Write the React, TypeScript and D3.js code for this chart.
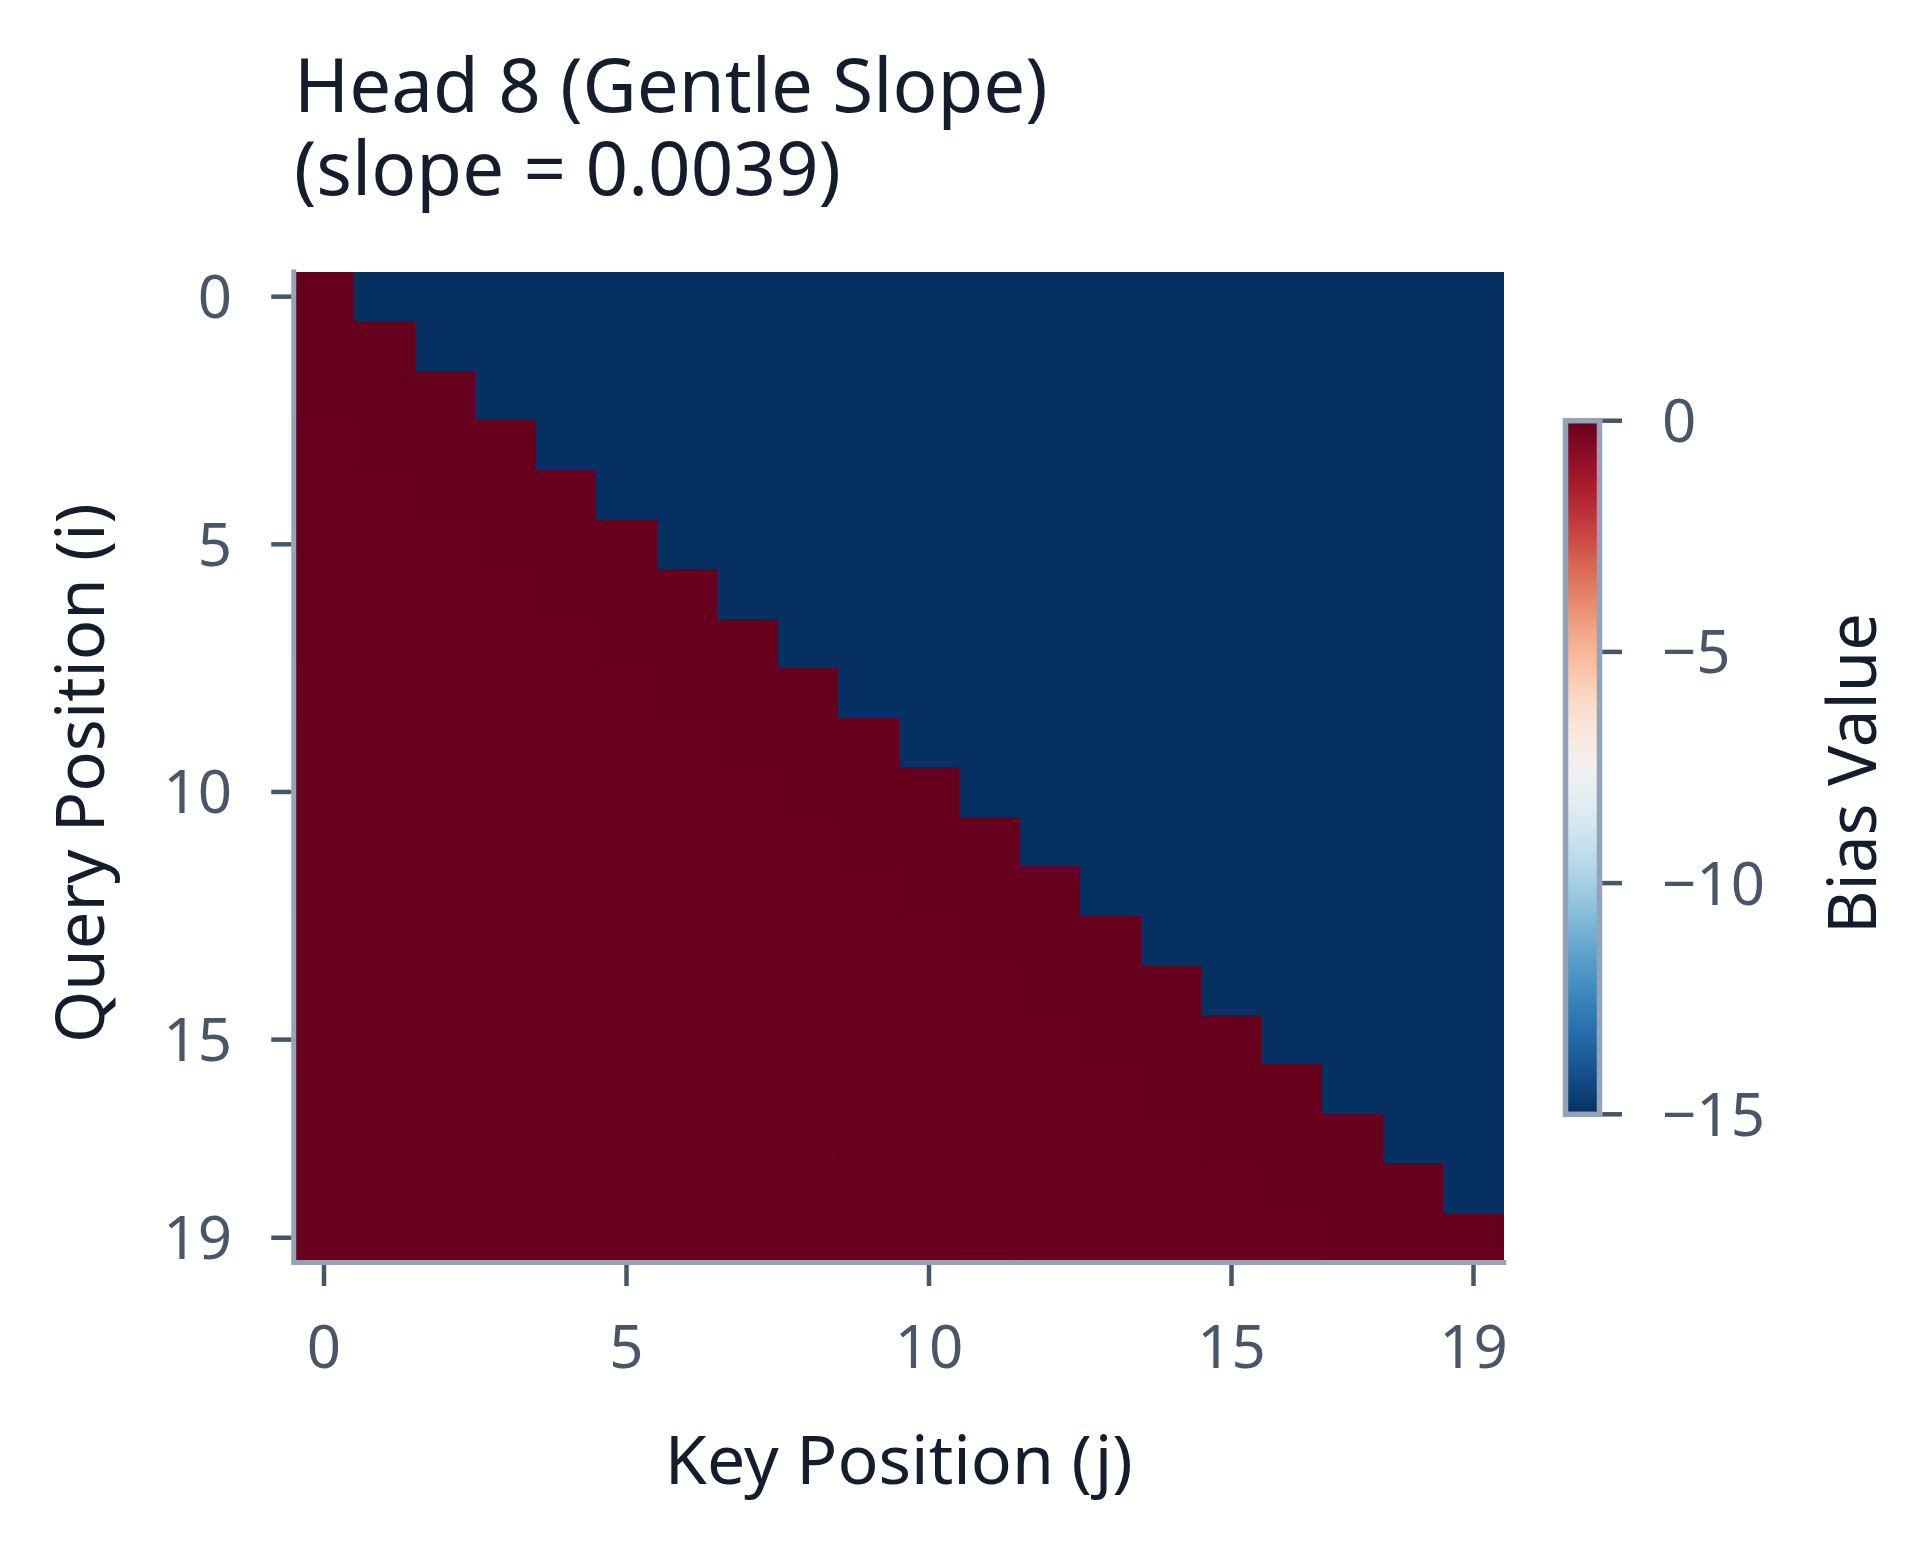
import React from "react";
import * as d3 from "d3";

// ---- data ----
const positions: number[] = d3.range(20); // query / key positions 0..19
const SLOPE = 0.0039; // ALiBi slope for head 8
const MASK_VALUE = -15; // future (masked) positions
const tickValues: number[] = [0, 5, 10, 15, 19];
const colorbarTicks: number[] = [0, -5, -10, -15];
const titleLines: string[] = ["Head 8 (Gentle Slope)", "(slope = 0.0039)"];
const xLabel = "Key Position (j)";
const yLabel = "Query Position (i)";
const cbLabel = "Bias Value";

const W = 1920;
const H = 1547;
const FONT = "'Noto Sans', sans-serif";
const SPINE = "#94a3b8";
const TICK = "#475569";
const TICKTEXT = "#4a5568";
const DARK = "#151c2c";

export default function App() {
  const left = 293.75;
  const right = 1503.75;
  const top = 271.9;
  const bottom = 1262.5;

  const x = d3.scaleBand<number>().domain(positions).range([left, right]);
  const y = d3.scaleBand<number>().domain(positions).range([top, bottom]);
  const color = (v: number) => d3.interpolateRdBu((0 - v) / 15);

  const cells: { i: number; j: number; v: number }[] = [];
  positions.forEach((i) =>
    positions.forEach((j) => {
      const v = j <= i ? -SLOPE * (i - j) : MASK_VALUE;
      cells.push({ i, j, v });
    })
  );

  // colorbar
  const cbTop = 420.7;
  const cbBottom = 1114.3;
  const cbLeft = 1565.5;
  const cbRight = 1599.5;
  const cbScale = d3.scaleLinear().domain([0, -15]).range([cbTop, cbBottom]);
  const stops = d3.range(0, 1.0001, 0.02);

  const fmt = (v: number) => (v < 0 ? "\u2212" + Math.abs(v) : String(v));

  return (
    <div style={{ position: "absolute", left: 0, top: 0 }}>
      <svg width={W} height={H} style={{ display: "block", background: "#fff" }} fontFamily={FONT}>
        <defs>
          <linearGradient id="cbgrad" x1="0" y1="0" x2="0" y2="1">
            {stops.map((t) => (
              <stop key={t} offset={t} stopColor={d3.interpolateRdBu(t)} />
            ))}
          </linearGradient>
        </defs>

        {/* title (two lines in one text element) */}
        <text fontSize={74.5} fill={DARK}>
          {titleLines.map((t, k) => (
            <tspan key={k} x={294} y={111.7 + k * 83.3}>
              {t}
            </tspan>
          ))}
        </text>

        {/* heatmap */}
        <g shapeRendering="crispEdges">
          {cells.map((c) => (
            <rect
              key={c.i + "-" + c.j}
              x={x(c.j)!}
              y={y(c.i)!}
              width={x.bandwidth() + 0.5}
              height={y.bandwidth() + 0.5}
              fill={color(c.v)}
            />
          ))}
        </g>

        {/* spines */}
        <line x1={left} x2={left} y1={top - 2.5} y2={bottom} stroke={SPINE} strokeWidth={5} />
        <line x1={left - 2.5} x2={right + 2.5} y1={bottom} y2={bottom} stroke={SPINE} strokeWidth={5} />

        {/* y ticks */}
        {tickValues.map((t) => {
          const yy = y(t)! + y.bandwidth() / 2;
          return (
            <g key={"y" + t}>
              <line x1={left - 2.5} x2={left - 22.5} y1={yy} y2={yy} stroke={TICK} strokeWidth={4.5} />
              <text x={232} y={yy + 21.5} fontSize={60} fill={TICKTEXT} textAnchor="end">
                {t}
              </text>
            </g>
          );
        })}

        {/* x ticks */}
        {tickValues.map((t) => {
          const xx = x(t)! + x.bandwidth() / 2;
          return (
            <g key={"x" + t}>
              <line x1={xx} x2={xx} y1={bottom + 2.5} y2={bottom + 23.5} stroke={TICK} strokeWidth={4.5} />
              <text x={xx} y={1368} fontSize={60} fill={TICKTEXT} textAnchor="middle">
                {t}
              </text>
            </g>
          );
        })}

        {/* axis labels */}
        <text x={(left + right) / 2} y={1484} fontSize={68} fill={DARK} textAnchor="middle">
          {xLabel}
        </text>
        <text
          transform={`translate(104, ${(top + bottom) / 2 + 6}) rotate(-90)`}
          fontSize={67}
          fill={DARK}
          textAnchor="middle"
        >
          {yLabel}
        </text>

        {/* colorbar */}
        <rect x={cbLeft} y={cbTop} width={cbRight - cbLeft} height={cbBottom - cbTop} fill="url(#cbgrad)" />
        <rect
          x={cbLeft}
          y={cbTop}
          width={cbRight - cbLeft}
          height={cbBottom - cbTop}
          fill="none"
          stroke={SPINE}
          strokeWidth={5.5}
        />
        {colorbarTicks.map((t) => {
          const yy = cbScale(t);
          return (
            <g key={"cb" + t}>
              <line x1={cbRight + 2.75} x2={cbRight + 22.5} y1={yy} y2={yy} stroke={TICK} strokeWidth={4.5} />
              <text x={1662} y={yy + 21.5} fontSize={60} fill={TICKTEXT}>
                {fmt(t)}
              </text>
            </g>
          );
        })}
        <text
          transform={`translate(1876, ${(cbTop + cbBottom) / 2 + 6}) rotate(-90)`}
          fontSize={67}
          fill={DARK}
          textAnchor="middle"
        >
          {cbLabel}
        </text>
      </svg>
    </div>
  );
}
